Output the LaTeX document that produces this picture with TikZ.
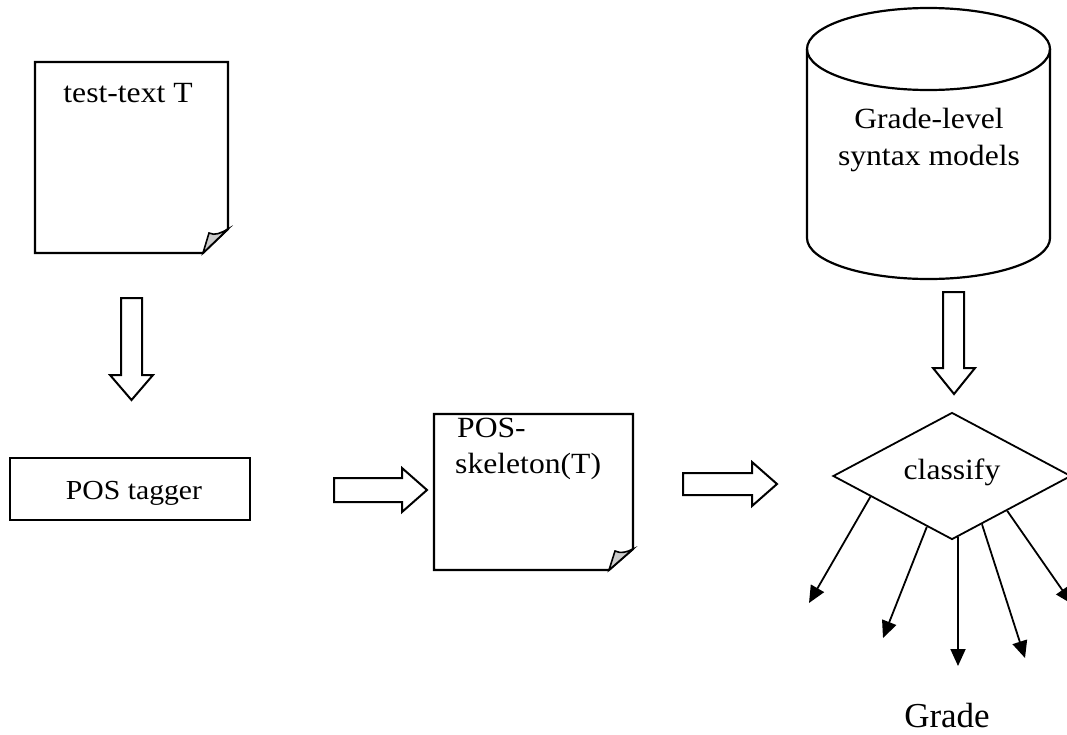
\documentclass[tikz,border=0pt]{standalone}
\usepackage{fontspec}
\setmainfont[FakeStretch=1.08]{Liberation Serif}
\newfontfamily\gradefont{Liberation Serif}
\usetikzlibrary{shapes.geometric,arrows.meta,calc}

\tikzset{
  outline/.style={draw=black, line width=2.2pt, line join=miter},
  docpage/.style={outline, fill=white},
  curl/.style={draw=black, line width=1.6pt, fill=black!20},
  blockarrow/.style={draw=black, line width=2pt, fill=white},
  gradearrow/.style={draw=black, line width=1.8pt, -{Triangle[length=17pt,width=15pt]}},
  lbl/.style={font=\fontsize{29.3}{32}\selectfont, inner sep=0pt, anchor=base},
}

\begin{document}
\begin{tikzpicture}[x=1pt, y=-1pt]
  \clip (0,0) rectangle (1067,734);
  \fill[white] (0,0) rectangle (1067,734);

  % input document
  \draw[docpage] (35,62) -- (228,62) -- (228,229) -- (203,253) -- (35,253) -- cycle;
  \draw[curl] (203,253) -- (209,233) .. controls (215,236) and (221,233) .. (228,229) -- cycle;
  \node[lbl] (testtext) at (128,102) {test-text T};

  % tagger -> input arrow
  \draw[blockarrow] (121,298) -- (142,298) -- (142,375) -- (153,375) -- (131.5,400)
        -- (110,375) -- (121,375) -- cycle;

  % POS tagger box
  \node[outline, minimum width=240pt, minimum height=62pt, inner sep=0pt] (tagger) at (130,489) {};
  \node[lbl, font=\fontsize{27.5}{30}\selectfont] (taggertext) at (134,499) {POS tagger};

  \draw[blockarrow] (334,478) -- (402,478) -- (402,468) -- (427,490) -- (402,512)
        -- (402,502) -- (334,502) -- cycle;

  % skeleton document
  \draw[docpage] (434,414) -- (633,414) -- (633,549) -- (609,570) -- (434,570) -- cycle;
  \draw[curl] (609,570) -- (615,551) .. controls (621,554) and (627,552) .. (633,549) -- cycle;
  \node[lbl, anchor=base west] (skel1) at (457,437) {POS-};
  \node[lbl, anchor=base west] (skel2) at (455,473) {skeleton(T)};

  \draw[blockarrow] (683,473) -- (752,473) -- (752,462) -- (777,484) -- (752,506)
        -- (752,495) -- (683,495) -- cycle;

  % grade-level models store
  \draw[outline, fill=white] (807,49) -- (807,238) arc[start angle=180, end angle=360, x radius=121.5pt, y radius=41pt]
        -- (1050,49);
  \draw[outline] (928.5,49) ellipse[x radius=121.5pt, y radius=41pt];
  \node[lbl] (models1) at (929,128) {Grade-level};
  \node[lbl] (models2) at (929,165) {syntax models};

  \draw[blockarrow] (943,292) -- (964,292) -- (964,368) -- (975,368) -- (954,394)
        -- (933,368) -- (943,368) -- cycle;

  % classifier
  \node[draw=black, line width=1.8pt, shape=diamond, aspect=1.874,
        minimum width=238pt, minimum height=127pt, inner sep=0pt] (cls) at (952,476) {};
  \node[lbl] (clstext) at (952,479) {classify};

  \coordinate (g1) at (809,603);
  \coordinate (g2) at (883,638);
  \coordinate (g3) at (958,666);
  \coordinate (g4) at (1025,658);
  \coordinate (g5) at (1072,604);

  \draw[gradearrow] ($(cls.west)!0.32!(cls.south)$) -- (g1);
  \draw[gradearrow] ($(cls.west)!0.79!(cls.south)$) -- (g2);
  \draw[gradearrow] ($(cls.south)!0.05!(cls.east)$) -- (g3);
  \draw[gradearrow] ($(cls.south)!0.25!(cls.east)$) -- (g4);
  \draw[gradearrow] ($(cls.south)!0.46!(cls.east)$) -- (g5);

  \node[font=\gradefont\fontsize{35}{40}\selectfont, inner sep=0pt, anchor=base] (grade) at (947,727) {Grade};
\end{tikzpicture}
\end{document}
